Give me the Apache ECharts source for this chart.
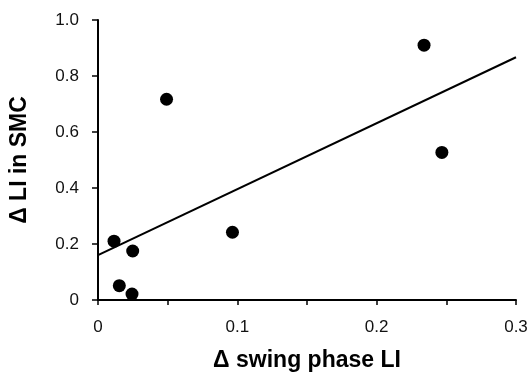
<!DOCTYPE html>
<html>
<head>
<meta charset="utf-8">
<script src="https://cdn.jsdelivr.net/npm/echarts@6/dist/echarts.min.js"></script>
<style>
html,body{margin:0;padding:0;background:#fff;}
#chart{width:532px;height:378px;}
</style>
</head>
<body>
<div id="chart"></div>
<script>
var xValues = [0.0115, 0.0249, 0.0153, 0.0244, 0.0965, 0.0492, 0.234, 0.2468];
var yValues = [0.21, 0.175, 0.051, 0.021, 0.242, 0.717, 0.91, 0.527];
var fitX = [0, 0.3];
var fitY = [0.16, 0.867];
var xTicks = [0, 0.1, 0.2, 0.3];
var yTicks = [0, 0.2, 0.4, 0.6, 0.8, 1.0];
var xTitle = 'Δ swing phase LI';
var yTitle = 'Δ LI in SMC';

var points = xValues.map(function (x, i) { return [x, yValues[i]]; });
var fitLine = fitX.map(function (x, i) { return [x, fitY[i]]; });

var chart = echarts.init(document.getElementById('chart'));
var font = 'Liberation Sans, Arial, sans-serif';
chart.setOption({
  animation: false,
  backgroundColor: '#fff',
  grid: { left: 97, right: 16, top: 20, bottom: 78 },
  xAxis: {
    type: 'value', min: 0, max: 0.3, interval: 0.1,
    name: xTitle, nameLocation: 'middle', nameGap: 49,
    nameTextStyle: { fontFamily: font, fontSize: 23, fontWeight: 'bold', color: '#000' },
    axisLine: { show: true, lineStyle: { color: '#000', width: 2 } },
    axisTick: { show: true, inside: false, length: 5, lineStyle: { color: '#000', width: 1.5 } },
    minorTick: { show: true, splitNumber: 2, length: 5, lineStyle: { color: '#000', width: 1.5 } },
    axisLabel: { fontFamily: font, fontSize: 17, color: '#111', margin: 19,
      formatter: function (v) { var m = xTicks.filter(function (t) { return Math.abs(t - v) < 1e-9; }); return m.length ? String(m[0]) : ''; } },
    splitLine: { show: false }
  },
  yAxis: {
    type: 'value', min: 0, max: 1, interval: 0.2,
    name: yTitle, nameLocation: 'middle', nameGap: 67, nameRotate: 90,
    nameTextStyle: { fontFamily: font, fontSize: 23, fontWeight: 'bold', color: '#000' },
    axisLine: { show: true, lineStyle: { color: '#000', width: 2 } },
    axisTick: { show: true, inside: false, length: 6, lineStyle: { color: '#000', width: 1.5 } },
    axisLabel: { fontFamily: font, fontSize: 17, color: '#111', margin: 19,
      formatter: function (v) { var m = yTicks.filter(function (t) { return Math.abs(t - v) < 1e-9; }); return m.length ? (m[0] === 0 ? '0' : m[0].toFixed(1)) : ''; } },
    splitLine: { show: false }
  },
  series: [
    {
      type: 'line', data: fitLine, symbol: 'none',
      lineStyle: { color: '#000', width: 2 }, z: 2
    },
    {
      type: 'scatter', data: points, symbol: 'circle', symbolSize: 13,
      itemStyle: { color: '#000', opacity: 1 }, z: 3
    }
  ]
});
</script>
</body>
</html>
